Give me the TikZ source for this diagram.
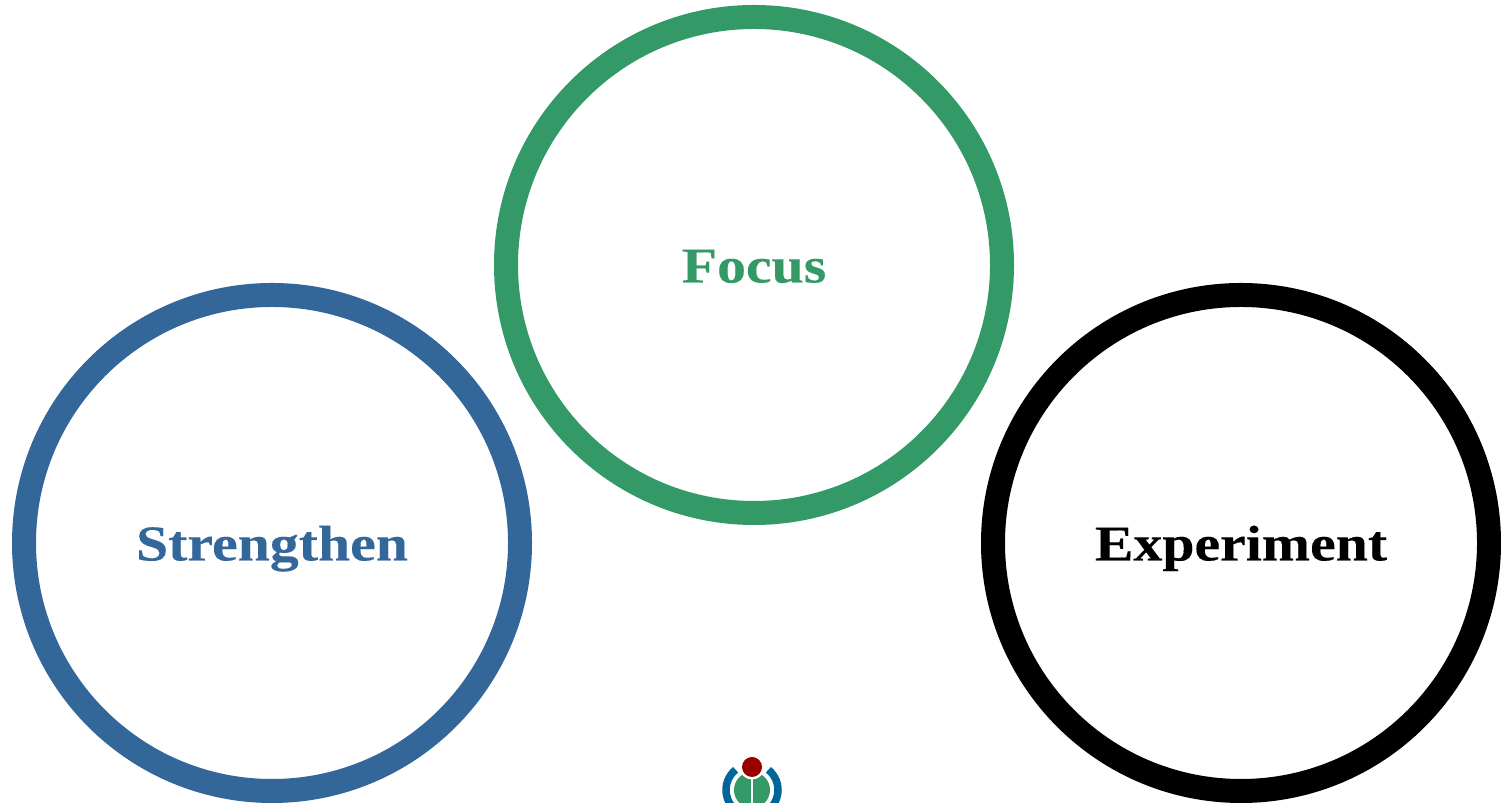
\documentclass[tikz,border=0pt]{standalone}
\usepackage{fontspec}
\setmainfont[FakeStretch=1.15,BoldFeatures={FakeBold=0.2}]{Liberation Serif}
\definecolor{focusgreen}{RGB}{51,153,102}
\definecolor{strengthblue}{RGB}{51,102,153}
\definecolor{logoblue}{RGB}{0,102,153}
\definecolor{logored}{RGB}{153,0,0}
\begin{document}
\begin{tikzpicture}[ring/.style={draw,circle,line width=0.48cm,minimum size=9.92cm,inner sep=0pt,outer sep=0pt,text height=0.7cm,text depth=0cm,font=\fontsize{28.6}{32}\selectfont\bfseries}]
\useasboundingbox (0,0) rectangle (30.02,16.06);
\node[ring,draw=focusgreen,text=focusgreen] (focus) at (15.08,10.76) {Focus};
\node[ring,draw=strengthblue,text=strengthblue] (strengthen) at (5.44,5.2) {Strengthen};
\node[ring,draw=black,text=black] (experiment) at (24.82,5.2) {Experiment};
% logo at the bottom, cut off by the page
\begin{scope}
\clip (14,0) rectangle (16,1.2);
\fill[focusgreen] (15.04,0.26) circle (0.36);
\draw[white,line width=0.05cm] (15.04,0.6) -- (15.04,0);
\fill[white] (15.04,0.72) circle (0.25);
\fill[logored] (15.04,0.72) circle (0.2);
\draw[logoblue,line width=0.15cm] (15.04,0.26) ++(129:0.52) arc (129:231:0.52);
\draw[logoblue,line width=0.15cm] (15.04,0.26) ++(51:0.52) arc (51:-51:0.52);
\end{scope}
\end{tikzpicture}
\end{document}
